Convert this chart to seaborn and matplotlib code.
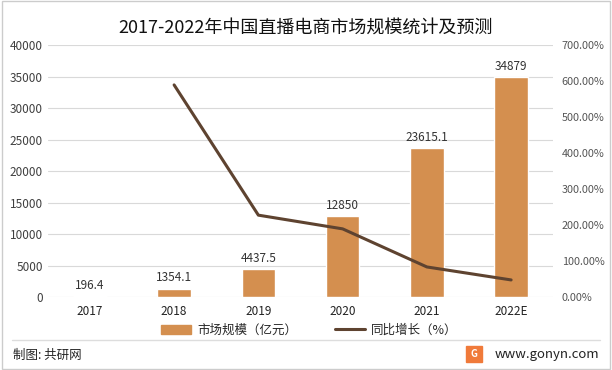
import numpy as np
import pandas as pd
import matplotlib
matplotlib.use('Agg')
import matplotlib.pyplot as plt
import seaborn as sns
from matplotlib.patches import Rectangle
from matplotlib.lines import Line2D

# data
years = ['2017', '2018', '2019', '2020', '2021', '2022E']
scale = [196.4, 1354.1, 4437.5, 12850, 23615.1, 34879]
growth_years = ['2018', '2019', '2020', '2021', '2022E']
growth = [589.5, 227.7, 189.6, 83.8, 47.7]

bar_color = '#D48F4F'
line_color = '#5E4330'

sns.set_style('white')
plt.rcParams['font.family'] = ['Noto Sans CJK SC', 'DejaVu Sans']

fig = plt.figure(figsize=(6.12, 3.70), dpi=100)
ax = fig.add_axes([0.078, 0.197, 0.826, 0.681])

df = pd.DataFrame({'year': years, 'scale': scale})
sns.barplot(data=df, x='year', y='scale', order=years, color=bar_color,
            width=0.4, saturation=1, ax=ax, zorder=3)
ax.bar_label(ax.containers[0], labels=['%g' % v for v in scale],
             padding=3, fontsize=8.5, color='#333333')

ax.set_ylim(0, 40000)
ax.set_yticks(np.arange(0, 40001, 5000))
ax.yaxis.grid(True, color='#D9D9D9', linewidth=0.8, zorder=0)
ax.set_axisbelow(True)
ax.set_xlabel('')
ax.set_ylabel('')
ax.tick_params(axis='both', length=0, labelsize=8.5, colors='#404040')
ax.tick_params(axis='x', pad=6, colors='#222222')
for s in ax.spines.values():
    s.set_visible(False)

ax2 = ax.twinx()
gdf = pd.DataFrame({'pos': [years.index(y) for y in growth_years], 'growth': growth})
sns.lineplot(data=gdf, x='pos', y='growth', color=line_color, linewidth=2.2, ax=ax2)
ax2.set_ylim(0, 700)
ax2.set_yticks(np.arange(0, 701, 100))
ax2.set_yticklabels(['%.2f%%' % v for v in np.arange(0, 701, 100)])
ax2.set_ylabel('')
ax2.tick_params(axis='y', length=0, labelsize=7.8, colors='#555555', pad=6)
for s in ax2.spines.values():
    s.set_visible(False)
ax.set_xlim(-0.5, len(years) - 0.5)

fig.text(0.5, 0.925, '2017-2022年中国直播电商市场规模统计及预测', ha='center', va='center',
         fontsize=13, color='#111111')

handles = [Rectangle((0, 0), 1, 1, color=bar_color),
           Line2D([0], [0], color=line_color, linewidth=2.2)]
fig.legend(handles, ['市场规模（亿元）', '同比增长（%）'], loc='center',
           bbox_to_anchor=(0.505, 0.108), ncol=2, frameon=False, fontsize=9,
           handlelength=2.4, columnspacing=3, handletextpad=0.5)

# frame and footer
fig.add_artist(Rectangle((0.003, 0.004), 0.994, 0.992, transform=fig.transFigure,
                         fill=False, edgecolor='#CCCCCC', linewidth=1))
fig.add_artist(Line2D([0.02, 0.98], [0.082, 0.082], transform=fig.transFigure,
                      color='#DDDDDD', linewidth=1))
fig.text(0.022, 0.04, '制图: 共研网', fontsize=9, va='center', color='#222222')
fig.add_artist(Rectangle((0.762, 0.022), 0.026, 0.042, transform=fig.transFigure,
                         color='#F07A3A'))
fig.text(0.775, 0.043, 'G', fontsize=7, ha='center', va='center', color='white',
         fontweight='bold')
fig.text(0.98, 0.043, 'www.gonyn.com', fontsize=9.5, ha='right', va='center',
         color='#222222')

fig.savefig('out.png', dpi=100)
